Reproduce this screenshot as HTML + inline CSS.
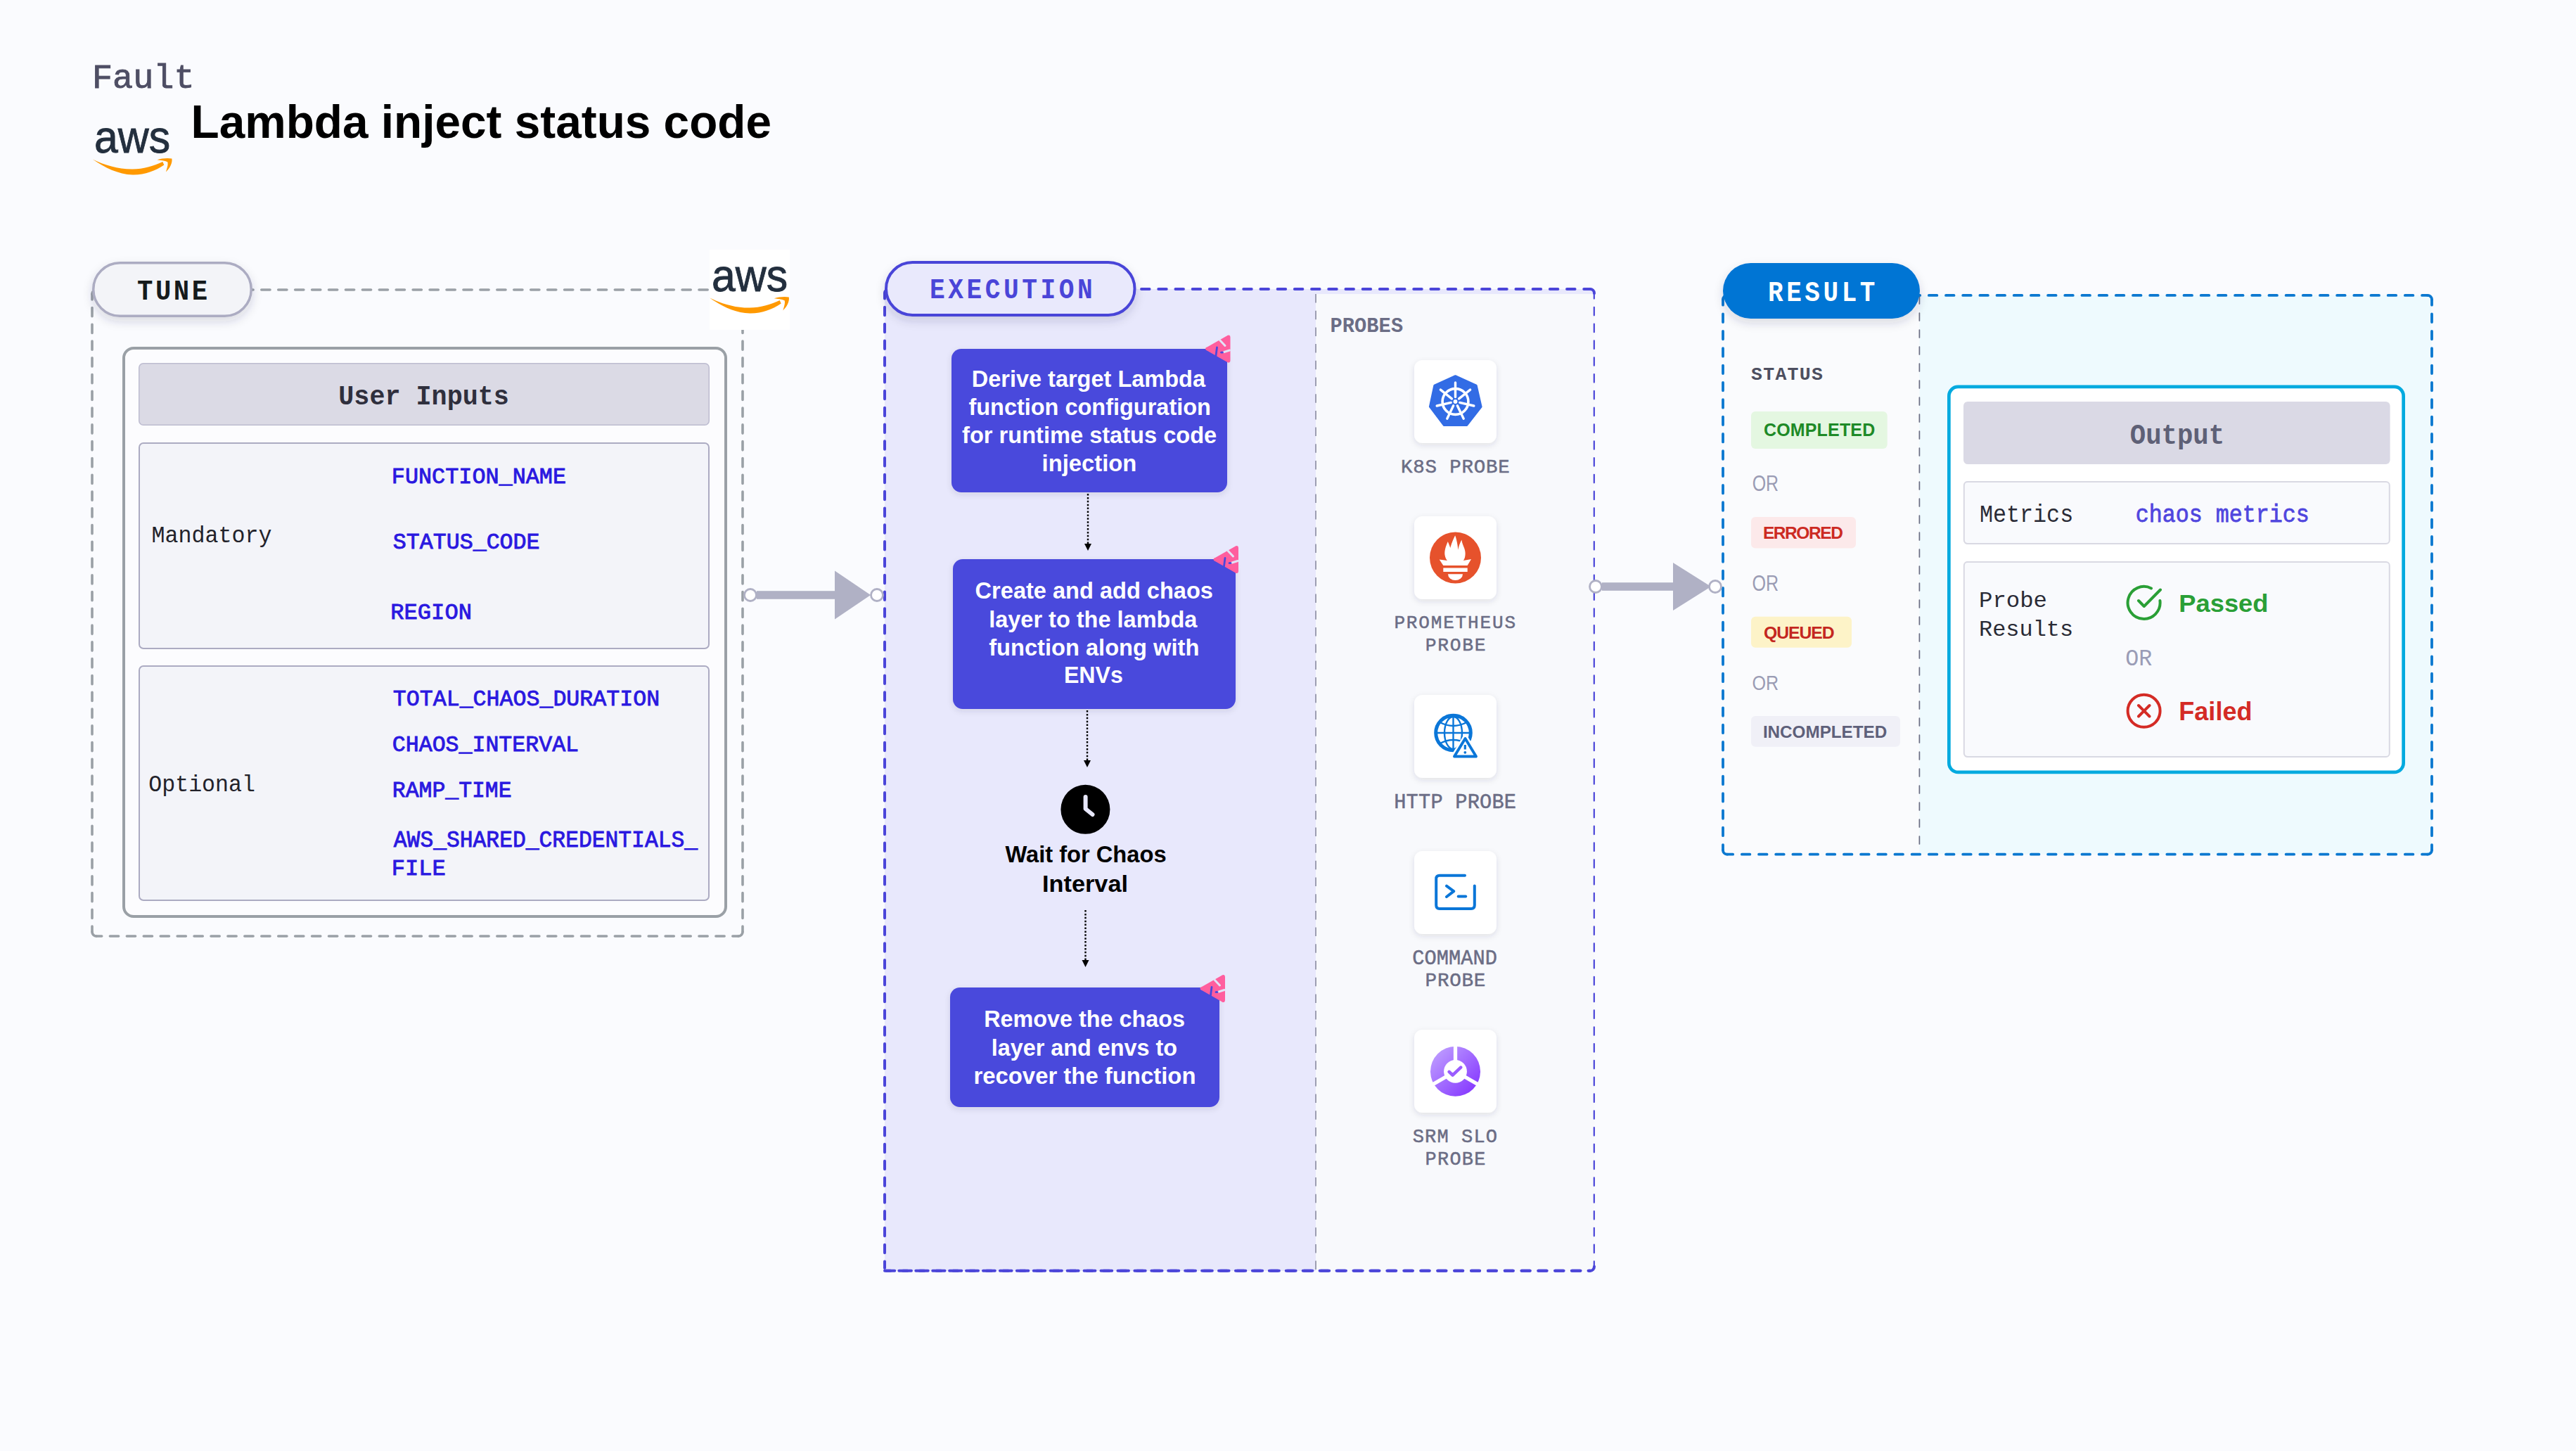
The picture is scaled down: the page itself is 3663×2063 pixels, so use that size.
<!DOCTYPE html>
<html><head><meta charset="utf-8"><style>
html,body{margin:0;padding:0;background:#FAFBFE;}
body{width:3663px;height:2063px;overflow:hidden;}
svg{display:block;}
</style></head><body>
<svg width="3663" height="2063" viewBox="0 0 3663 2063">
<rect x="0" y="0" width="3663" height="2063" fill="#FAFBFE"/>
<defs>
<filter id="sh" x="-20%" y="-30%" width="140%" height="180%"><feDropShadow dx="0" dy="6" stdDeviation="7" flood-color="#30304a" flood-opacity="0.16"/></filter>
<filter id="sh2" x="-20%" y="-20%" width="140%" height="150%"><feDropShadow dx="0" dy="3" stdDeviation="4" flood-color="#30304a" flood-opacity="0.12"/></filter>
<linearGradient id="srm" x1="0" y1="0" x2="1" y2="1"><stop offset="0" stop-color="#C4A8FF"/><stop offset="1" stop-color="#7F2CFF"/></linearGradient>
</defs>
<g transform="translate(131.8,225)">
<path d="M0,1.5 C17,13 36,23 57,23.5 C74,23.8 89,18 101.5,9.5 L99.5,5 C86,11.5 72,15.2 57,15.5 C37,15.8 17,10 0,1.5 Z" fill="#FF9900"/>
<path d="M91.6,2.3 C98,0.3 106.5,-0.6 112.6,0.6 C113.6,7 109.5,14.5 104.2,19.4 C105.8,14 107.6,8.5 106.4,5.3 C102.5,3.5 96.5,2.8 91.6,2.3 Z" fill="#FF9900"/>
</g>
<line x1="137" y1="412" x2="1050" y2="412" stroke="#9AA0A6" stroke-width="3.6" stroke-dasharray="12.2 11.730" stroke-dashoffset="4.500" stroke-linecap="round"/>
<line x1="137" y1="1331" x2="1050" y2="1331" stroke="#9AA0A6" stroke-width="3.6" stroke-dasharray="12.2 11.730" stroke-dashoffset="4.500" stroke-linecap="round"/>
<line x1="131" y1="418" x2="131" y2="1325" stroke="#9AA0A6" stroke-width="3.6" stroke-dasharray="12.2 11.570" stroke-dashoffset="4.270" stroke-linecap="round"/>
<line x1="1056" y1="418" x2="1056" y2="1325" stroke="#9AA0A6" stroke-width="3.6" stroke-dasharray="12.2 11.570" stroke-dashoffset="4.270" stroke-linecap="round"/>
<path d="M131,418 A6,6 0 0 1 137,412 M1050,412 A6,6 0 0 1 1056,418 M1056,1325 A6,6 0 0 1 1050,1331 M137,1331 A6,6 0 0 1 131,1325" fill="none" stroke="#9AA0A6" stroke-width="3.6" stroke-linecap="round"/>
<rect x="1009" y="355" width="114" height="114" fill="#FFFFFF"/>
<g transform="translate(1009.2,422)">
<path d="M0,1.5 C17,13 36,23 57,23.5 C74,23.8 89,18 101.5,9.5 L99.5,5 C86,11.5 72,15.2 57,15.5 C37,15.8 17,10 0,1.5 Z" fill="#FF9900"/>
<path d="M91.6,2.3 C98,0.3 106.5,-0.6 112.6,0.6 C113.6,7 109.5,14.5 104.2,19.4 C105.8,14 107.6,8.5 106.4,5.3 C102.5,3.5 96.5,2.8 91.6,2.3 Z" fill="#FF9900"/>
</g>
<rect x="132.75" y="373.75" width="224.5" height="75.5" rx="37.75" fill="#F3F4F8" stroke="#ACACC2" stroke-width="3.5" filter="url(#sh)"/>
<rect x="176" y="495" width="856" height="808" rx="14" fill="#FCFCFE" stroke="#9AA0A6" stroke-width="4"/>
<rect x="197.75" y="516.75" width="810.5" height="87.5" rx="6" fill="#DBDAE5" stroke="#BDBCD0" stroke-width="1.5"/>
<rect x="198" y="630" width="810" height="292" rx="6" fill="#F3F4F9" stroke="#ACABC2" stroke-width="2"/>
<rect x="198" y="947" width="810" height="333" rx="6" fill="#F3F4F9" stroke="#ACABC2" stroke-width="2"/>
<rect x="1258" y="411" width="1009" height="1396" rx="6" fill="#E8E8FC"/>
<rect x="1871" y="418" width="396" height="1389" fill="#F8F9FC"/>
<line x1="1871" y1="418" x2="1871" y2="1806" stroke="#9496AA" stroke-width="1.8" stroke-dasharray="12.5 11.2"/>
<line x1="1264" y1="411" x2="2261" y2="411" stroke="#4B45D9" stroke-width="4" stroke-dasharray="11.5 12.700" stroke-dashoffset="3.950" stroke-linecap="round"/>
<line x1="1258" y1="417" x2="1258" y2="1803" stroke="#4B45D9" stroke-width="4" stroke-dasharray="11.5 12.300" stroke-dashoffset="3.950" stroke-linecap="round"/>
<line x1="2266.8" y1="417" x2="2266.8" y2="1800.8" stroke="#4B45D9" stroke-width="2.2" stroke-dasharray="11.5 12.300" stroke-dashoffset="3.950" stroke-linecap="round"/>
<line x1="1258" y1="1806.8" x2="2261" y2="1806.8" stroke="#4B45D9" stroke-width="4" stroke-dasharray="12 11.930" stroke-dashoffset="3.580" stroke-linecap="round"/>
<line x1="1258" y1="1806.8" x2="2261" y2="1806.8" stroke="#4B45D9" stroke-width="4" stroke-dasharray="12 11.770" stroke-dashoffset="21.590" stroke-linecap="round"/>
<path d="M1258,417 A6,6 0 0 1 1264,411 M2261,411 A6,6 0 0 1 2267,417 M2267,1800.8 A6,6 0 0 1 2261,1806.8" fill="none" stroke="#4B45D9" stroke-width="4" stroke-linecap="round"/>
<rect x="1076" y="840.2" width="111" height="11.6" fill="#B0B1C5"/>
<path d="M1187,811.5 L1238,846 L1187,880.5 Z" fill="#B0B1C5"/>
<circle cx="1067" cy="846" r="8.5" fill="#FFFFFF" stroke="#B0B1C5" stroke-width="2.8"/>
<circle cx="1247" cy="846" r="8.5" fill="#FFFFFF" stroke="#B0B1C5" stroke-width="2.8"/>
<rect x="1260" y="373" width="353.5" height="75" rx="37.5" fill="#E9E9FC" stroke="#4A45D8" stroke-width="4" filter="url(#sh)"/>
<rect x="1353" y="496" width="392" height="204" rx="14" fill="#4A48DC" filter="url(#sh2)"/>
<path d="M1748.5,479.5 L1748.5,512.5 Q1748.5,515.5 1745.5,514.0 L1716.5,497.5 Q1713.5,496.0 1716.5,494.5 L1745.5,478.0 Q1748.5,476.5 1748.5,479.5 Z" fill="#FF5E9E" stroke="#FF5E9E" stroke-width="2" stroke-linejoin="round"/>
<line x1="1734.5" y1="483.5" x2="1742.0" y2="491.5" stroke="#E2E3F6" stroke-width="3" stroke-linecap="round"/>
<line x1="1730.5" y1="494.0" x2="1729.0" y2="505.5" stroke="#4A48DC" stroke-width="2.8" stroke-linecap="round"/>
<line x1="1748.5" y1="498.0" x2="1740.5" y2="500.5" stroke="#E2E3F6" stroke-width="3" stroke-linecap="round"/>
<ellipse cx="1737.5" cy="501.0" rx="2.5" ry="1.6" fill="#4A48DC"/>
<rect x="1355" y="795" width="402" height="213" rx="14" fill="#4A48DC" filter="url(#sh2)"/>
<path d="M1760,779 L1760,812 Q1760,815 1757,813.5 L1728,797.0 Q1725,795.5 1728,794.0 L1757,777.5 Q1760,776 1760,779 Z" fill="#FF5E9E" stroke="#FF5E9E" stroke-width="2" stroke-linejoin="round"/>
<line x1="1746" y1="783" x2="1753.5" y2="791" stroke="#E2E3F6" stroke-width="3" stroke-linecap="round"/>
<line x1="1742" y1="793.5" x2="1740.5" y2="805" stroke="#4A48DC" stroke-width="2.8" stroke-linecap="round"/>
<line x1="1760" y1="797.5" x2="1752" y2="800" stroke="#E2E3F6" stroke-width="3" stroke-linecap="round"/>
<ellipse cx="1749" cy="800.5" rx="2.5" ry="1.6" fill="#4A48DC"/>
<rect x="1351" y="1404" width="383" height="170" rx="14" fill="#4A48DC" filter="url(#sh2)"/>
<path d="M1741,1389 L1741,1422 Q1741,1425 1738,1423.5 L1709,1407.0 Q1706,1405.5 1709,1404.0 L1738,1387.5 Q1741,1386 1741,1389 Z" fill="#FF5E9E" stroke="#FF5E9E" stroke-width="2" stroke-linejoin="round"/>
<line x1="1727" y1="1393" x2="1734.5" y2="1401" stroke="#E2E3F6" stroke-width="3" stroke-linecap="round"/>
<line x1="1723" y1="1403.5" x2="1721.5" y2="1415" stroke="#4A48DC" stroke-width="2.8" stroke-linecap="round"/>
<line x1="1741" y1="1407.5" x2="1733" y2="1410" stroke="#E2E3F6" stroke-width="3" stroke-linecap="round"/>
<ellipse cx="1730" cy="1410.5" rx="2.5" ry="1.6" fill="#4A48DC"/>
<line x1="1547" y1="702" x2="1547" y2="775" stroke="#000" stroke-width="2.4" stroke-dasharray="2.5 2.4"/>
<path d="M1542,773 L1552,773 L1547,783 Z" fill="#000"/>
<line x1="1546" y1="1010" x2="1546" y2="1083" stroke="#000" stroke-width="2.4" stroke-dasharray="2.5 2.4"/>
<path d="M1541,1081 L1551,1081 L1546,1091 Z" fill="#000"/>
<line x1="1543.5" y1="1294" x2="1543.5" y2="1367" stroke="#000" stroke-width="2.4" stroke-dasharray="2.5 2.4"/>
<path d="M1538.5,1365 L1548.5,1365 L1543.5,1375 Z" fill="#000"/>
<circle cx="1543.4" cy="1150.8" r="35" fill="#000"/>
<path d="M1543.6,1133 L1543.6,1150 L1553.5,1158" fill="none" stroke="#E8E8FC" stroke-width="6" stroke-linecap="round" stroke-linejoin="round"/>
<rect x="2011" y="512" width="117" height="118" rx="12" fill="#FFFFFF" filter="url(#sh2)"/>
<rect x="2011" y="734" width="117" height="118" rx="12" fill="#FFFFFF" filter="url(#sh2)"/>
<rect x="2011" y="988" width="117" height="118" rx="12" fill="#FFFFFF" filter="url(#sh2)"/>
<rect x="2011" y="1210" width="117" height="118" rx="12" fill="#FFFFFF" filter="url(#sh2)"/>
<rect x="2011" y="1464" width="117" height="118" rx="12" fill="#FFFFFF" filter="url(#sh2)"/>
<path d="M2069.50,534.73 L2099.16,548.08 L2106.08,578.22 L2085.82,604.43 L2053.18,604.43 L2033.40,578.22 L2039.84,548.08 Z" fill="#326CE5" stroke="#326CE5" stroke-width="3" stroke-linejoin="round"/>
<circle cx="2069.5" cy="571" r="18.4" fill="none" stroke="#fff" stroke-width="3.6"/>
<circle cx="2069.5" cy="571" r="2.9" fill="#fff"/>
<line x1="2069.50" y1="564.50" x2="2069.50" y2="544.00" stroke="#fff" stroke-width="3.4" stroke-linecap="round"/>
<line x1="2074.58" y1="566.95" x2="2090.61" y2="554.17" stroke="#fff" stroke-width="3.4" stroke-linecap="round"/>
<line x1="2075.84" y1="572.45" x2="2095.82" y2="577.01" stroke="#fff" stroke-width="3.4" stroke-linecap="round"/>
<line x1="2072.32" y1="576.86" x2="2081.21" y2="595.33" stroke="#fff" stroke-width="3.4" stroke-linecap="round"/>
<line x1="2066.68" y1="576.86" x2="2057.79" y2="595.33" stroke="#fff" stroke-width="3.4" stroke-linecap="round"/>
<line x1="2063.16" y1="572.45" x2="2043.18" y2="577.01" stroke="#fff" stroke-width="3.4" stroke-linecap="round"/>
<line x1="2064.42" y1="566.95" x2="2048.39" y2="554.17" stroke="#fff" stroke-width="3.4" stroke-linecap="round"/>
<circle cx="2069.5" cy="793" r="36.5" fill="#E6522C"/>
<path transform="translate(2069.5,793)" d="M-22.8,2.4 L-17.2,11 L17.2,11 L22.5,2 L11.4,3.9 C14.5,0 15,-8 12.6,-13.8 C11,-18 9.5,-21 8.9,-25.6 C6.5,-21 4.5,-16 3.9,-11.3 C3.5,-16 2,-26 -0.4,-31.8 C-2.5,-27 -5,-22 -7.3,-14.1 C-8,-17 -9.5,-20 -10.7,-23.1 C-13,-18 -16,-10 -15,-4 C-14.5,-0.5 -13,2.5 -11.6,3.9 Z" fill="#fff"/>
<rect x="2052.3" y="807.5" width="34.4" height="5.5" fill="#fff"/>
<path d="M2059.0,816.3 L2080.0,816.3 A10.5,8.8 0 0 1 2059.0,816.3 Z" fill="#fff"/>
<g fill="none" stroke="#0A76D8">
<circle cx="2066.5" cy="1042" r="24.8" stroke-width="5"/>
<line x1="2043.5" y1="1042" x2="2089.5" y2="1042" stroke-width="2.4"/>
<line x1="2066.5" y1="1019" x2="2066.5" y2="1065" stroke-width="2.4"/>
<ellipse cx="2066.5" cy="1042" rx="12.5" ry="23" stroke-width="2.4"/>
<path d="M2047.5,1027 Q2066.5,1037 2085.5,1027" stroke-width="2.4"/>
<path d="M2047.5,1057 Q2066.5,1047 2085.5,1057" stroke-width="2.4"/>
</g>
<path d="M2083.5,1050 L2099,1075.5 L2068,1075.5 Z" fill="#FFFFFF" stroke="#FFFFFF" stroke-width="9" stroke-linejoin="round"/>
<path d="M2083.5,1050 L2099,1075.5 L2068,1075.5 Z" fill="#FFFFFF" stroke="#0A76D8" stroke-width="3.9" stroke-linejoin="round"/>
<line x1="2083.3" y1="1059" x2="2083.3" y2="1065.5" stroke="#0A76D8" stroke-width="3.2"/>
<circle cx="2083.3" cy="1069.8" r="1.9" fill="#0A76D8"/>
<path d="M2083,1244.7 L2047,1244.7 Q2042.2,1244.7 2042.2,1249.5 L2042.2,1287 Q2042.2,1291.9 2047,1291.9 L2092,1291.9 Q2096.8,1291.9 2096.8,1287 L2096.8,1259.4" fill="none" stroke="#0A76D8" stroke-width="4" stroke-linecap="round"/>
<path d="M2057,1259.7 L2067.2,1267.2 L2057,1275" fill="none" stroke="#0A76D8" stroke-width="4" stroke-linecap="round" stroke-linejoin="round"/>
<line x1="2073.7" y1="1274.6" x2="2084.2" y2="1274.6" stroke="#0A76D8" stroke-width="4" stroke-linecap="round"/>
<circle cx="2069.5" cy="1523.3" r="35.5" fill="url(#srm)"/>
<circle cx="2069.5" cy="1523.3" r="16.4" fill="#fff"/>
<line x1="2069.50" y1="1513.30" x2="2069.50" y2="1485.30" stroke="#fff" stroke-width="5.3"/>
<line x1="2078.16" y1="1528.30" x2="2102.41" y2="1542.30" stroke="#fff" stroke-width="5.3"/>
<line x1="2060.84" y1="1528.30" x2="2036.59" y2="1542.30" stroke="#fff" stroke-width="5.3"/>
<path d="M2060.7,1523.9 L2065.6,1528.6 L2077.2,1517.6" fill="none" stroke="#9A5CFF" stroke-width="4.5" stroke-linecap="round" stroke-linejoin="round"/>
<rect x="2450" y="419.5" width="1007.5" height="795.2" rx="6" fill="#EEFAFE"/>
<rect x="2450" y="419.5" width="279.4" height="795.2" fill="#FAFBFD"/>
<line x1="2729.4" y1="421" x2="2729.4" y2="1213" stroke="#6A6C82" stroke-width="1.7" stroke-dasharray="11 13" stroke-linecap="round"/>
<line x1="2456" y1="419.9" x2="3452" y2="419.9" stroke="#0B78D0" stroke-width="3.8" stroke-dasharray="11.5 12.680" stroke-dashoffset="3.330" stroke-linecap="round"/>
<line x1="2456" y1="1214.7" x2="3452" y2="1214.7" stroke="#0B78D0" stroke-width="3.8" stroke-dasharray="11.5 12.680" stroke-dashoffset="3.330" stroke-linecap="round"/>
<line x1="2450" y1="425.9" x2="2450" y2="1208.7" stroke="#0B78D0" stroke-width="3.8" stroke-dasharray="11.5 12.840" stroke-dashoffset="3.730" stroke-linecap="round"/>
<line x1="3458" y1="425.9" x2="3458" y2="1208.7" stroke="#0B78D0" stroke-width="3.8" stroke-dasharray="11.5 12.840" stroke-dashoffset="3.730" stroke-linecap="round"/>
<path d="M2450,425.9 A6,6 0 0 1 2456,419.9 M3452,419.9 A6,6 0 0 1 3458,425.9 M3458,1208.7 A6,6 0 0 1 3452,1214.7 M2456,1214.7 A6,6 0 0 1 2450,1208.7" fill="none" stroke="#0B78D0" stroke-width="3.8" stroke-linecap="round"/>
<rect x="2278" y="828.2" width="101" height="11.6" fill="#B0B1C5"/>
<path d="M2379,800.0 L2433,834 L2379,868.0 Z" fill="#B0B1C5"/>
<circle cx="2269" cy="834" r="8.5" fill="#FFFFFF" stroke="#B0B1C5" stroke-width="2.8"/>
<circle cx="2439" cy="834" r="8.5" fill="#FFFFFF" stroke="#B0B1C5" stroke-width="2.8"/>
<rect x="2450" y="374" width="280" height="79" rx="39.5" fill="#0075D4" filter="url(#sh)"/>
<rect x="2490" y="585" width="193.69999999999982" height="52.89999999999998" rx="6" fill="#E4F7E1"/>
<rect x="2490" y="734.9" width="149" height="44.700000000000045" rx="6" fill="#FCE9EA"/>
<rect x="2490" y="876.8" width="143" height="44.0" rx="6" fill="#FDF3C8"/>
<rect x="2490" y="1018" width="211.9000000000001" height="43.799999999999955" rx="6" fill="#F0F0F7"/>
<rect x="2771.35" y="549.95" width="646.3" height="547.9" rx="13" fill="#FFFFFF" stroke="#02AADF" stroke-width="4.7"/>
<rect x="2792" y="571" width="606.6" height="89" rx="6" fill="#DAD9E5"/>
<rect x="2792.8" y="685" width="605" height="88" rx="5" fill="#F9FAFD" stroke="#D9D9E3" stroke-width="2"/>
<rect x="2792.8" y="799" width="605" height="277" rx="5" fill="#F9FAFD" stroke="#D9D9E3" stroke-width="2"/>
<path d="M3059.04,836.41 A23,23 0 1 0 3071.43,854.10" fill="none" stroke="#2A9F36" stroke-width="4" stroke-linecap="round"/>
<path d="M3041,854 L3048.8,862 L3072,838.5" fill="none" stroke="#2A9F36" stroke-width="4" stroke-linecap="round" stroke-linejoin="round"/>
<circle cx="3048.6" cy="1010.8" r="23" fill="none" stroke="#D42B25" stroke-width="4"/>
<path d="M3041,1003 L3056.5,1018.5 M3056.5,1003 L3041,1018.5" fill="none" stroke="#D42B25" stroke-width="4" stroke-linecap="round"/>
<text x="134.00" y="217" font-family='"Liberation Sans", sans-serif' font-size="65.46" font-weight="400" fill="#232F3E" stroke="#232F3E" stroke-width="0.9" textLength="108.13" lengthAdjust="spacingAndGlyphs">aws</text>
<text x="1012.00" y="414" font-family='"Liberation Sans", sans-serif' font-size="65.46" font-weight="400" fill="#232F3E" stroke="#232F3E" stroke-width="0.9" textLength="108.13" lengthAdjust="spacingAndGlyphs">aws</text>
<text x="131.00" y="125" font-family='"Liberation Mono", monospace' font-size="47.84" font-weight="400" fill="#4E4E64" stroke="#4E4E64" stroke-width="0.9" textLength="145.57" lengthAdjust="spacingAndGlyphs">Fault</text>
<text x="271.50" y="196" font-family='"Liberation Sans", sans-serif' font-size="67.59" font-weight="700" fill="#000000" textLength="825.55" lengthAdjust="spacingAndGlyphs">Lambda inject status code</text>
<g transform="translate(195.00,426) scale(0.91,1)"><text x="0" y="0" font-family='"Liberation Mono", monospace' font-size="40.97" font-weight="700" fill="#151A1C" textLength="109.99" lengthAdjust="spacing">TUNE</text></g>
<text x="481.30" y="574.7" font-family='"Liberation Mono", monospace' font-size="39.49" font-weight="700" fill="#2F2F3D" textLength="242.59" lengthAdjust="spacingAndGlyphs">User Inputs</text>
<text x="215.40" y="770.8" font-family='"Liberation Mono", monospace' font-size="32.77" font-weight="400" fill="#22222A" textLength="171.01" lengthAdjust="spacingAndGlyphs">Mandatory</text>
<text x="556.80" y="687" font-family='"Liberation Mono", monospace' font-size="31.92" font-weight="400" fill="#2A18E0" stroke="#2A18E0" stroke-width="0.9" textLength="248.28" lengthAdjust="spacingAndGlyphs">FUNCTION_NAME</text>
<text x="558.80" y="780.3" font-family='"Liberation Mono", monospace' font-size="30.55" font-weight="400" fill="#2A18E0" stroke="#2A18E0" stroke-width="0.9" textLength="208.76" lengthAdjust="spacingAndGlyphs">STATUS_CODE</text>
<text x="555.30" y="880.4" font-family='"Liberation Mono", monospace' font-size="31.92" font-weight="400" fill="#2A18E0" stroke="#2A18E0" stroke-width="0.9" textLength="115.64" lengthAdjust="spacingAndGlyphs">REGION</text>
<text x="211.20" y="1124.6" font-family='"Liberation Mono", monospace' font-size="33.72" font-weight="400" fill="#22222A" textLength="151.85" lengthAdjust="spacingAndGlyphs">Optional</text>
<text x="558.80" y="1003.4" font-family='"Liberation Mono", monospace' font-size="31.97" font-weight="400" fill="#2A18E0" stroke="#2A18E0" stroke-width="0.9" textLength="379.35" lengthAdjust="spacingAndGlyphs">TOTAL_CHAOS_DURATION</text>
<text x="557.80" y="1067.9" font-family='"Liberation Mono", monospace' font-size="32.19" font-weight="400" fill="#2A18E0" stroke="#2A18E0" stroke-width="0.9" textLength="265.27" lengthAdjust="spacingAndGlyphs">CHAOS_INTERVAL</text>
<text x="557.80" y="1133.2" font-family='"Liberation Mono", monospace' font-size="32.09" font-weight="400" fill="#2A18E0" stroke="#2A18E0" stroke-width="0.9" textLength="169.81" lengthAdjust="spacingAndGlyphs">RAMP_TIME</text>
<text x="559.80" y="1203.5" font-family='"Liberation Mono", monospace' font-size="33.11" font-weight="400" fill="#2A18E0" stroke="#2A18E0" stroke-width="0.9" textLength="432.29" lengthAdjust="spacingAndGlyphs">AWS_SHARED_CREDENTIALS_</text>
<text x="556.80" y="1244.3" font-family='"Liberation Mono", monospace' font-size="30.46" font-weight="400" fill="#2A18E0" stroke="#2A18E0" stroke-width="0.9" textLength="76.99" lengthAdjust="spacingAndGlyphs">FILE</text>
<g transform="translate(1322.00,424) scale(0.9,1)"><text x="0" y="0" font-family='"Liberation Mono", monospace' font-size="40.15" font-weight="700" fill="#4A45D8" textLength="257.50" lengthAdjust="spacing">EXECUTION</text></g>
<text x="1381.70" y="549.8" font-family='"Liberation Sans", sans-serif' font-size="32.63" font-weight="700" fill="#FFFFFF" textLength="332.32" lengthAdjust="spacingAndGlyphs">Derive target Lambda</text>
<text x="1377.40" y="590.1" font-family='"Liberation Sans", sans-serif' font-size="32.63" font-weight="700" fill="#FFFFFF" textLength="344.53" lengthAdjust="spacingAndGlyphs">function configuration</text>
<text x="1368.10" y="629.9" font-family='"Liberation Sans", sans-serif' font-size="32.63" font-weight="700" fill="#FFFFFF" textLength="362.12" lengthAdjust="spacingAndGlyphs">for runtime status code</text>
<text x="1481.60" y="669.8" font-family='"Liberation Sans", sans-serif' font-size="32.63" font-weight="700" fill="#FFFFFF" textLength="134.74" lengthAdjust="spacingAndGlyphs">injection</text>
<text x="1386.60" y="851.4" font-family='"Liberation Sans", sans-serif' font-size="32.63" font-weight="700" fill="#FFFFFF" textLength="338.33" lengthAdjust="spacingAndGlyphs">Create and add chaos</text>
<text x="1406.20" y="891.5" font-family='"Liberation Sans", sans-serif' font-size="32.63" font-weight="700" fill="#FFFFFF" textLength="296.13" lengthAdjust="spacingAndGlyphs">layer to the lambda</text>
<text x="1406.20" y="932.1" font-family='"Liberation Sans", sans-serif' font-size="32.63" font-weight="700" fill="#FFFFFF" textLength="299.15" lengthAdjust="spacingAndGlyphs">function along with</text>
<text x="1512.90" y="971.3" font-family='"Liberation Sans", sans-serif' font-size="32.63" font-weight="700" fill="#FFFFFF" textLength="83.91" lengthAdjust="spacingAndGlyphs">ENVs</text>
<text x="1399.20" y="1460.2" font-family='"Liberation Sans", sans-serif' font-size="32.63" font-weight="700" fill="#FFFFFF" textLength="285.84" lengthAdjust="spacingAndGlyphs">Remove the chaos</text>
<text x="1409.80" y="1501" font-family='"Liberation Sans", sans-serif' font-size="32.63" font-weight="700" fill="#FFFFFF" textLength="264.14" lengthAdjust="spacingAndGlyphs">layer and envs to</text>
<text x="1384.40" y="1540.8" font-family='"Liberation Sans", sans-serif' font-size="32.63" font-weight="700" fill="#FFFFFF" textLength="316.08" lengthAdjust="spacingAndGlyphs">recover the function</text>
<text x="1429.40" y="1226.2" font-family='"Liberation Sans", sans-serif' font-size="32.63" font-weight="700" fill="#000000" textLength="229.15" lengthAdjust="spacingAndGlyphs">Wait for Chaos</text>
<text x="1482.00" y="1267.5" font-family='"Liberation Sans", sans-serif' font-size="32.63" font-weight="700" fill="#000000" textLength="122.01" lengthAdjust="spacingAndGlyphs">Interval</text>
<text x="1891.40" y="471.6" font-family='"Liberation Mono", monospace' font-size="28.65" font-weight="700" fill="#6B6D85" textLength="103.69" lengthAdjust="spacing">PROBES</text>
<text x="1992.00" y="671.7" font-family='"Liberation Mono", monospace' font-size="27.50" font-weight="400" fill="#6B6D85" stroke="#6B6D85" stroke-width="0.5" textLength="154.77" lengthAdjust="spacing">K8S PROBE</text>
<text x="1982.40" y="893.4" font-family='"Liberation Mono", monospace' font-size="26.09" font-weight="400" fill="#6B6D85" stroke="#6B6D85" stroke-width="0.5" textLength="172.65" lengthAdjust="spacing">PROMETHEUS</text>
<text x="2026.70" y="925.3" font-family='"Liberation Mono", monospace' font-size="26.34" font-weight="400" fill="#6B6D85" stroke="#6B6D85" stroke-width="0.5" textLength="85.84" lengthAdjust="spacing">PROBE</text>
<text x="1982.20" y="1148.8" font-family='"Liberation Mono", monospace' font-size="28.65" font-weight="400" fill="#6B6D85" stroke="#6B6D85" stroke-width="0.5" textLength="173.85" lengthAdjust="spacing">HTTP PROBE</text>
<text x="2008.20" y="1370.7" font-family='"Liberation Mono", monospace' font-size="28.65" font-weight="400" fill="#6B6D85" stroke="#6B6D85" stroke-width="0.5" textLength="120.83" lengthAdjust="spacing">COMMAND</text>
<text x="2026.60" y="1401.8" font-family='"Liberation Mono", monospace' font-size="27.62" font-weight="400" fill="#6B6D85" stroke="#6B6D85" stroke-width="0.5" textLength="85.71" lengthAdjust="spacing">PROBE</text>
<text x="2008.70" y="1624.3" font-family='"Liberation Mono", monospace' font-size="27.09" font-weight="400" fill="#6B6D85" stroke="#6B6D85" stroke-width="0.5" textLength="120.34" lengthAdjust="spacing">SRM SLO</text>
<text x="2026.60" y="1656.4" font-family='"Liberation Mono", monospace' font-size="26.89" font-weight="400" fill="#6B6D85" stroke="#6B6D85" stroke-width="0.5" textLength="85.71" lengthAdjust="spacing">PROBE</text>
<g transform="translate(2514.00,427.5) scale(0.9,1)"><text x="0" y="0" font-family='"Liberation Mono", monospace' font-size="40.00" font-weight="700" fill="#FFFFFF" textLength="169.37" lengthAdjust="spacing">RESULT</text></g>
<text x="2490.00" y="539.8" font-family='"Liberation Mono", monospace' font-size="26.52" font-weight="700" fill="#4D4F60" textLength="101.93" lengthAdjust="spacing">STATUS</text>
<text x="2507.90" y="620.4" font-family='"Liberation Sans", sans-serif' font-size="24.99" font-weight="700" fill="#1E8A27" textLength="158.34" lengthAdjust="spacing">COMPLETED</text>
<text x="2506.90" y="766.3" font-family='"Liberation Sans", sans-serif' font-size="24.51" font-weight="700" fill="#CC2A22" textLength="113.95" lengthAdjust="spacing">ERRORED</text>
<text x="2507.90" y="907.5" font-family='"Liberation Sans", sans-serif' font-size="24.78" font-weight="700" fill="#C4271F" textLength="100.83" lengthAdjust="spacing">QUEUED</text>
<text x="2506.90" y="1048.9" font-family='"Liberation Sans", sans-serif' font-size="24.28" font-weight="700" fill="#5E607A" textLength="176.36" lengthAdjust="spacing">INCOMPLETED</text>
<text x="2491.70" y="698" font-family='"Liberation Sans", sans-serif' font-size="32.24" font-weight="400" fill="#9A9CB4" textLength="37.44" lengthAdjust="spacingAndGlyphs">OR</text>
<text x="2491.50" y="840.1" font-family='"Liberation Sans", sans-serif' font-size="31.21" font-weight="400" fill="#9A9CB4" textLength="37.69" lengthAdjust="spacingAndGlyphs">OR</text>
<text x="2491.50" y="981.4" font-family='"Liberation Sans", sans-serif' font-size="30.40" font-weight="400" fill="#9A9CB4" textLength="37.69" lengthAdjust="spacingAndGlyphs">OR</text>
<text x="3028.80" y="630.7" font-family='"Liberation Mono", monospace' font-size="41.21" font-weight="700" fill="#5E6076" textLength="134.36" lengthAdjust="spacingAndGlyphs">Output</text>
<text x="2815.00" y="741.6" font-family='"Liberation Mono", monospace' font-size="34.66" font-weight="400" fill="#2A2B36" textLength="133.17" lengthAdjust="spacingAndGlyphs">Metrics</text>
<text x="3036.80" y="741.6" font-family='"Liberation Mono", monospace' font-size="35.55" font-weight="400" fill="#5046DE" stroke="#5046DE" stroke-width="0.8" textLength="246.98" lengthAdjust="spacingAndGlyphs">chaos metrics</text>
<text x="2814.00" y="862.8" font-family='"Liberation Mono", monospace' font-size="32.01" font-weight="400" fill="#2A2B36" textLength="96.97" lengthAdjust="spacingAndGlyphs">Probe</text>
<text x="2814.00" y="903.5" font-family='"Liberation Mono", monospace' font-size="32.01" font-weight="400" fill="#2A2B36" textLength="134.20" lengthAdjust="spacingAndGlyphs">Results</text>
<text x="3098.30" y="869.9" font-family='"Liberation Sans", sans-serif' font-size="35.38" font-weight="700" fill="#2A9F36" textLength="127.13" lengthAdjust="spacingAndGlyphs">Passed</text>
<text x="3022.30" y="945.5" font-family='"Liberation Mono", monospace' font-size="33.15" font-weight="400" fill="#9A9CB6" textLength="38.09" lengthAdjust="spacingAndGlyphs">OR</text>
<text x="3098.30" y="1024" font-family='"Liberation Sans", sans-serif' font-size="37.10" font-weight="700" fill="#D42B25" textLength="104.17" lengthAdjust="spacingAndGlyphs">Failed</text>
</svg>
</body></html>
